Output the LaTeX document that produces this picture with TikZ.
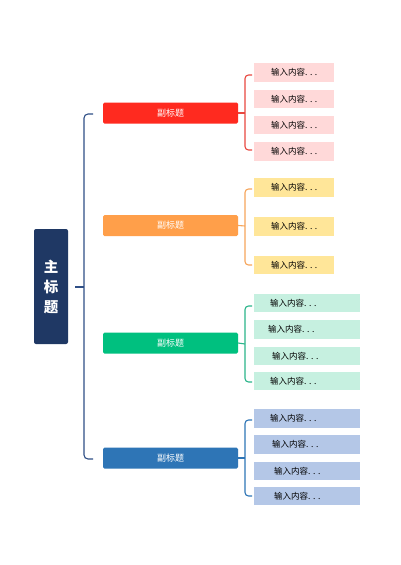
\documentclass[tikz,border=0pt]{standalone}
\usepackage{fontspec}
\setmainfont{Noto Sans CJK SC}
\newcommand{\wtext}[2]{\makebox[106pt][l]{\hspace*{#1pt}#2}}
\begin{document}
\begin{tikzpicture}[x=1pt,y=-1pt,
  mainbox/.style={draw=none,fill=mainc,rounded corners=2pt,minimum width=34pt,minimum height=115pt,inner sep=0pt,text=white,font=\fontsize{14.5}{20}\selectfont\bfseries,align=center},
  subbox/.style={draw=none,rounded corners=1.5pt,minimum width=135pt,minimum height=21pt,inner sep=0pt,text=white,font=\fontsize{9}{10}\selectfont},
  item/.style={draw=none,minimum height=18.5pt,inner sep=0pt,text=black,font=\fontsize{8.5}{9}\selectfont,anchor=west},
  wideitem/.style={item,minimum width=106pt},
  conn/.style={line width=1.1pt,rounded corners=3.5pt}
]
\definecolor{mainc}{HTML}{1F3864}
\definecolor{mainl}{HTML}{2F4F86}
\definecolor{redc}{HTML}{FF2A1F}
\definecolor{redl}{HTML}{E8473F}
\definecolor{redi}{HTML}{FFD9D9}
\definecolor{orac}{HTML}{FF9F4A}
\definecolor{oral}{HTML}{F6A55B}
\definecolor{orai}{HTML}{FFE699}
\definecolor{grec}{HTML}{00C07F}
\definecolor{grel}{HTML}{2BB58A}
\definecolor{grei}{HTML}{C6F0E0}
\definecolor{bluc}{HTML}{2E75B6}
\definecolor{blul}{HTML}{2E75B6}
\definecolor{blui}{HTML}{B4C7E7}
\useasboundingbox[fill=white] (0,0) rectangle (400,565);

% main title
\node[mainbox] (main) at (51,286.5) {主\\标\\题};
\coordinate (mstub) at (75,287);
\coordinate (mv) at (84,287);
\coordinate (mtop) at (93,114);
\coordinate (mbot) at (93,459);
\draw[mainl,line width=1.1pt] (mstub) -- (mv);
\draw[mainl,conn,rounded corners=4pt] (mtop) -- (84,114) -- (84,459) -- (mbot);

% subtitles
\node[subbox,fill=redc] (s1) at (170.5,113) {副标题};
\node[subbox,fill=orac] (s2) at (170.5,225.5) {副标题};
\node[subbox,fill=grec] (s3) at (170.5,343) {副标题};
\node[subbox,fill=bluc] (s4) at (170.5,458) {副标题};

% red items
\node[item,fill=redi,minimum width=80pt] (r1) at (254,72.5) {输入内容. . .};
\node[item,fill=redi,minimum width=80pt] (r2) at (254,99) {输入内容. . .};
\node[item,fill=redi,minimum width=80pt] (r3) at (254,125) {输入内容. . .};
\node[item,fill=redi,minimum width=80pt] (r4) at (254,151.5) {输入内容. . .};
\coordinate (rt) at (252,75);
\coordinate (rb) at (252,150);
\draw[redl,line width=1.1pt] (s1.east) -- (245,113);
\draw[redl,conn] (rt) -- (245,75) -- (245,150) -- (rb);

% orange items
\node[item,fill=orai,minimum width=80pt] (o1) at (254,187.5) {输入内容. . .};
\node[item,fill=orai,minimum width=80pt] (o2) at (254,226.5) {输入内容. . .};
\node[item,fill=orai,minimum width=80pt] (o3) at (254,265) {输入内容. . .};
\coordinate (ot) at (252,189);
\coordinate (ob) at (252,265);
\draw[oral,line width=1.1pt] (s2.east) -- (245,226);
\draw[oral,conn] (ot) -- (245,189) -- (245,265) -- (ob);

% green items
\node[wideitem,fill=grei] (g1) at (254,303) {\wtext{16}{输入内容. . .}};
\node[wideitem,fill=grei] (g2) at (254,329.5) {\wtext{14}{输入内容. . .}};
\node[wideitem,fill=grei] (g3) at (254,356) {\wtext{18}{输入内容. . .}};
\node[wideitem,fill=grei] (g4) at (254,381) {\wtext{16}{输入内容. . .}};
\coordinate (gt) at (252,306);
\coordinate (gb) at (252,382);
\draw[grel,line width=1.1pt] (s3.east) -- (245,344);
\draw[grel,conn] (gt) -- (245,306) -- (245,382) -- (gb);

% blue items
\node[wideitem,fill=blui] (b1) at (254,418.5) {\wtext{16}{输入内容. . .}};
\node[wideitem,fill=blui] (b2) at (254,444.5) {\wtext{18}{输入内容. . .}};
\node[wideitem,fill=blui] (b3) at (254,471) {\wtext{20}{输入内容. . .}};
\node[wideitem,fill=blui] (b4) at (254,496) {\wtext{20}{输入内容. . .}};
\coordinate (bt) at (252,420);
\coordinate (bb) at (252,496);
\draw[blul,line width=1.1pt] (s4.east) -- (245,458);
\draw[blul,conn] (bt) -- (245,420) -- (245,496) -- (bb);
\end{tikzpicture}
\end{document}
